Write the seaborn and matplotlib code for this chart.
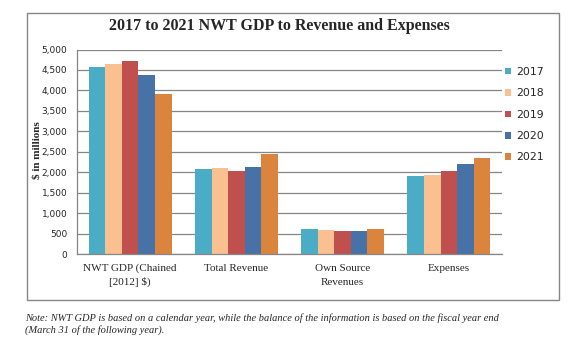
import numpy as np
import pandas as pd
import matplotlib
matplotlib.use("Agg")
import matplotlib.pyplot as plt
import seaborn as sns
from matplotlib.patches import Rectangle
from matplotlib.ticker import FuncFormatter

# data ($ in millions)
categories = ["NWT GDP (Chained\n[2012] $)", "Total Revenue", "Own Source\nRevenues", "Expenses"]
years = ["2017", "2018", "2019", "2020", "2021"]
v2017 = [4567, 2067, 621, 1895]
v2018 = [4641, 2092, 596, 1920]
v2019 = [4714, 2018, 572, 2018]
v2020 = [4371, 2116, 572, 2190]
v2021 = [3905, 2435, 621, 2337]
colors = ["#4BACC6", "#FAC090", "#C0504D", "#4672A8", "#DB843D"]

rows = []
for yr, vals in zip(years, [v2017, v2018, v2019, v2020, v2021]):
    for cat, v in zip(categories, vals):
        rows.append({"category": cat, "year": yr, "value": v})
df = pd.DataFrame(rows)

sns.set_style("white")
fig = plt.figure(figsize=(5.79, 3.6), dpi=100)
ax = fig.add_axes([77 / 579, 1 - 254 / 360, (502 - 77) / 579, (254 - 49.5) / 360])

sns.barplot(data=df, x="category", y="value", hue="year", order=categories,
            hue_order=years, palette=colors, width=0.78, saturation=1,
            linewidth=0, ax=ax, legend=True)

grid_c = "#868686"
ax.set_ylim(0, 5000)
ax.set_xlim(-0.5, 3.5)
ax.set_yticks(np.arange(0, 5001, 500))
ax.yaxis.set_major_formatter(FuncFormatter(lambda v, p: f"{int(v):,}"))
ax.yaxis.grid(True, color=grid_c, lw=0.9)
ax.set_axisbelow(True)
for s in ["top", "right"]:
    ax.spines[s].set_visible(False)
for s in ["left", "bottom"]:
    ax.spines[s].set_color(grid_c)
    ax.spines[s].set_linewidth(0.9)
ax.tick_params(axis="y", length=4, width=0.9, color=grid_c, labelsize=6.5, pad=3)
ax.set_xticks(range(len(categories)))
ax.set_xticklabels([""] * len(categories))
ax.tick_params(axis="x", which="major", length=0)
ax.set_xticks(np.arange(-0.5, 4, 1), minor=True)
ax.tick_params(axis="x", which="minor", length=4, width=0.9, color=grid_c)
for lab in ax.get_yticklabels():
    lab.set_family("DejaVu Sans")
ax.set_xlabel("")
ax.set_ylabel("")

# category labels, one line at a time so every label gets the same line gap
for i, cat in enumerate(categories):
    for j, line in enumerate(cat.split("\n")):
        ax.annotate(line, xy=(i, 0), xycoords=ax.get_xaxis_transform(),
                    xytext=(0, -10.1 - 10.1 * j), textcoords="offset points",
                    ha="center", va="center", family="Liberation Serif", fontsize=8)

h, l = ax.get_legend_handles_labels()
ax.legend(h, l, loc="upper left", bbox_to_anchor=(505 / 579, 1 - 67 / 360),
          bbox_transform=fig.transFigure, frameon=False, fontsize=7.8,
          handlelength=0.55, handleheight=0.55, handletextpad=0.5,
          labelspacing=1.05, borderpad=0, borderaxespad=0)

fig.text(37 / 579, 1 - 150 / 360, "$ in millions", rotation=90, ha="center",
         va="center", family="Liberation Serif", fontweight="bold", fontsize=8)
fig.text(279 / 579, 1 - 26 / 360, "2017 to 2021 NWT GDP to Revenue and Expenses",
         ha="center", va="center", family="Liberation Serif", fontweight="bold",
         fontsize=11.5)

# outer chart border
fig.patches.append(Rectangle((27.3 / 579, 1 - 299.5 / 360), (559 - 27.3) / 579,
                             (299.5 - 12.7) / 360, transform=fig.transFigure,
                             fill=False, edgecolor=grid_c, lw=1))

fig.text(25 / 579, 1 - 324 / 360,
         "Note: NWT GDP is based on a calendar year, while the balance of the information is based on the fiscal year end\n"
         "(March 31 of the following year).",
         ha="left", va="center", family="Liberation Serif", style="italic",
         fontsize=7.5, linespacing=1.3)

fig.savefig("out.png", dpi=100)
